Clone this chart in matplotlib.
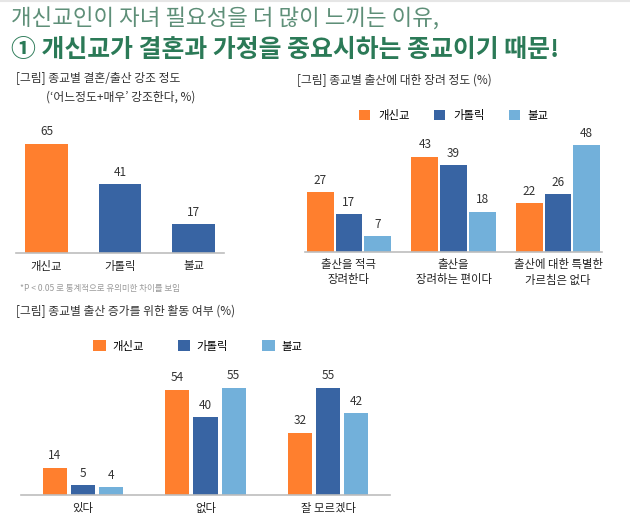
import matplotlib
matplotlib.use("Agg")
import matplotlib.pyplot as plt
from matplotlib.patches import Patch
import numpy as np

plt.rcParams['font.family'] = ['Noto Sans CJK KR', 'DejaVu Sans']

# ---- data ----
c1_cats = ['개신교', '가톨릭', '불교']
c1_vals = [65, 41, 17]

series = ['개신교', '가톨릭', '불교']

c2_cats = ['출산을 적극\n장려한다', '출산을\n장려하는 편이다', '출산에 대한 특별한\n가르침은 없다']
c2_prot = [27, 43, 22]
c2_cath = [17, 39, 26]
c2_budd = [7, 18, 48]

c3_cats = ['있다', '없다', '잘 모르겠다']
c3_prot = [14, 54, 32]
c3_cath = [5, 40, 55]
c3_budd = [4, 55, 42]

ORANGE = '#FF7F2E'
BLUE = '#3864A3'
LBLUE = '#72B0DA'
AXIS = '#bdbdbd'
TXT = '#333333'

W, H = 630, 524
fig = plt.figure(figsize=(W/100, H/100), dpi=100)
fig.patch.set_facecolor('white')

def px_axes(x0, x1, ybase, ytop):
    return fig.add_axes([x0/W, 1-ybase/H, (x1-x0)/W, (ybase-ytop)/H])

def style(ax):
    for s in ['top', 'right', 'left']:
        ax.spines[s].set_visible(False)
    ax.spines['bottom'].set_color(AXIS)
    ax.spines['bottom'].set_linewidth(1.2)
    ax.set_yticks([])
    ax.tick_params(axis='x', length=0, pad=6, labelsize=8.2, labelcolor='#222222')
    for t in ax.get_xticklabels():
        t.set_fontweight('medium')
    ax.patch.set_alpha(0)

# top separator line
fig.add_artist(plt.Line2D([0, 1], [1-1/H, 1-1/H], color='#e6e6e6', lw=1.5))

# titles
fig.text(11/W, 1-19/H, '개신교인이 자녀 필요성을 더 많이 느끼는 이유,', fontsize=16.1,
         color='#5E8F78', va='center', ha='left')
fig.text(11/W, 1-50/H, '① 개신교가 결혼과 가정을 중요시하는 종교이기 때문!', fontsize=17.9,
         color='#2B7A57', fontweight='heavy', va='center', ha='left')

# ---- chart 1 ----
ax1 = px_axes(16, 224, 253, 253 - 1.68*70)
x = np.arange(len(c1_cats))
bars = ax1.bar(x, c1_vals, width=0.585, color=[ORANGE, BLUE, BLUE])
ax1.set_xlim(-0.415, 2.415)
ax1.set_ylim(0, 70)
ax1.set_xticks(x, c1_cats)
style(ax1)
for b, v in zip(bars, c1_vals):
    ax1.annotate(str(v), (b.get_x()+b.get_width()/2, v), xytext=(0, 4),
                 textcoords='offset points', ha='center', va='bottom', fontsize=8.5, color=TXT)
fig.text(16/W, 1-78/H, '[그림] 종교별 결혼/출산 강조 정도', fontsize=8.5, color=TXT, va='center')
fig.text(46/W, 1-97/H, '(‘어느정도+매우’ 강조한다, %)', fontsize=8.5, color=TXT, va='center')
fig.text(20/W, 1-288/H, '*P < 0.05 로 통계적으로 유의미한 차이를 보임', fontsize=6.1, color='#9a9a9a', va='center')

def grouped(ax, cats, vals_list, width, off, xlim, ylim, legend_anchor, hl, colsp, htp):
    x = np.arange(len(cats))
    cols = [ORANGE, BLUE, LBLUE]
    for i, (vals, c) in enumerate(zip(vals_list, cols)):
        bs = ax.bar(x + (i-1)*off, vals, width=width, color=c)
        for b, v in zip(bs, vals):
            ax.annotate(str(v), (b.get_x()+b.get_width()/2, v), xytext=(0, 4),
                        textcoords='offset points', ha='center', va='bottom', fontsize=8.5, color=TXT)
    ax.set_xlim(*xlim)
    ax.set_ylim(*ylim)
    ax.set_xticks(x, cats)
    style(ax)
    handles = [Patch(facecolor=c, edgecolor='none') for c in cols]
    fig.legend(handles, series, loc='center left', bbox_to_anchor=legend_anchor,
               ncol=3, frameon=False, fontsize=8.2, handlelength=hl, handleheight=hl,
               handletextpad=htp, columnspacing=colsp, borderpad=0, borderaxespad=0)

# ---- chart 2 ----
ax2 = px_axes(305, 602, 252, 252 - 2.22*55)
grouped(ax2, c2_cats, [c2_prot, c2_cath, c2_budd], 0.258, 0.273,
        (-0.421, 2.421), (0, 55), (359/W, 1-115/H), 1.0, 2.1, 0.7)
fig.text(297/W, 1-80/H, '[그림] 종교별 출산에 대한 장려 정도 (%)', fontsize=8.5, color=TXT, va='center')
ax2.tick_params(axis='x', pad=5)
for t in ax2.get_xticklabels():
    t.set_linespacing(1.5)

# ---- chart 3 ----
ax3 = px_axes(21, 390, 495, 495 - 1.945*60)
grouped(ax3, c3_cats, [c3_prot, c3_cath, c3_budd], 0.196, 0.229,
        (-0.506, 2.506), (0, 60), (93/W, 1-346/H), 1.12, 3.0, 0.55)
fig.text(16/W, 1-311/H, '[그림] 종교별 출산 증가를 위한 활동 여부 (%)', fontsize=8.5, color=TXT, va='center')

fig.savefig('out.png', dpi=100, facecolor='white')
